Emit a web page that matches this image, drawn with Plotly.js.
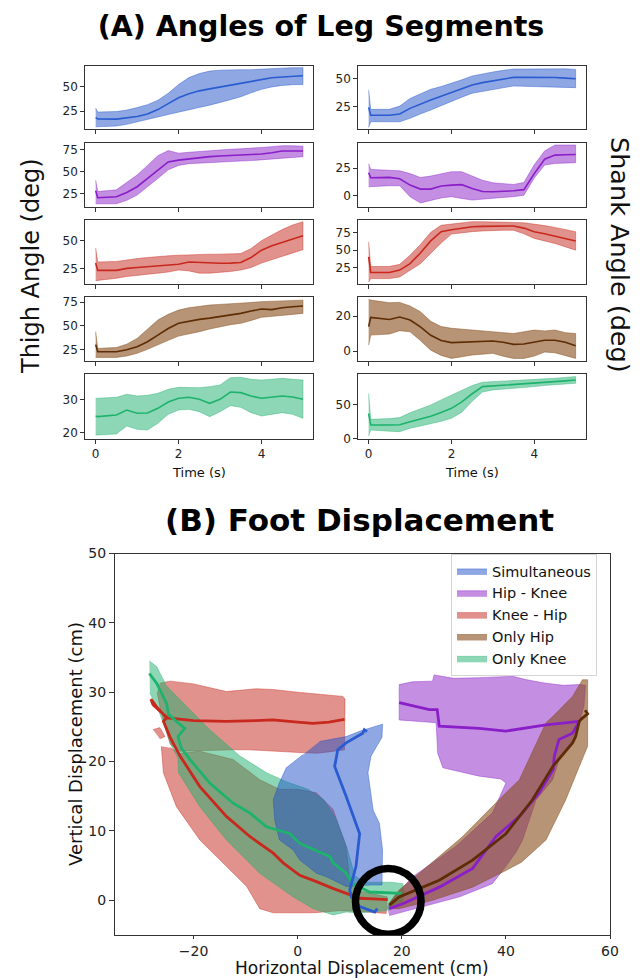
<!DOCTYPE html>
<html><head><meta charset="utf-8">
<script src="https://cdn.plot.ly/plotly-3.0.1.min.js"></script>
<style>html,body{margin:0;padding:0;background:#fff}#chart{width:640px;height:978px}</style>
</head><body><div id="chart"></div>
<script>
// ---------- Panel A data ----------
const timeS = [0, 0.05, 0.5, 0.75, 1, 1.25, 1.5, 1.75, 2, 2.25, 2.5, 2.75, 3, 3.25, 3.5, 3.75, 4, 4.25, 4.5, 4.75, 5];

const thighSimMean  = [18.3, 17, 16.8, 18, 19.5, 22, 26.5, 32.5, 38.5, 42.5, 45.5, 47.5, 49.5, 51.5, 53.5, 55.5, 57.3, 58.8, 59.6, 60.2, 60.8];
const thighSimUpper = [28, 24, 24.5, 26, 28.5, 31.5, 36, 43, 52, 59, 63, 65.5, 66.5, 67, 67, 67, 67.5, 68.5, 69, 69, 69];
const thighSimLower = [9, 9, 9.8, 11.5, 14, 16.5, 19, 21.5, 24, 26.5, 28.7, 31, 33.4, 36.5, 39.5, 43.5, 47, 49.5, 51, 51.7, 52];

const thighHKMean  = [28, 20, 21, 26, 32.6, 42, 52, 61, 63, 64.5, 66, 67, 67.7, 68.3, 69, 69.5, 70, 71.5, 73.5, 73.5, 73.5];
const thighHKUpper = [40, 27, 29, 37, 46, 57, 68, 74, 71, 72, 73, 74, 74.6, 75.5, 76, 76.5, 77.6, 78.5, 79.6, 79.5, 79];
const thighHKLower = [13, 13, 13, 17, 23, 32, 42, 52, 57, 59, 60, 60.5, 61, 61.5, 62, 62.5, 63, 64, 65, 66, 67];

const thighKHMean  = [30, 23.5, 23.5, 25.3, 26, 26.8, 27.5, 28, 29, 31, 30.5, 29.8, 29.8, 30, 30.5, 35, 41.5, 45.5, 48.5, 51.5, 54.5];
const thighKHUpper = [43.5, 31, 31.5, 33, 34, 35, 36, 36.5, 37, 37.5, 38, 38, 38, 38.3, 38.5, 43, 50, 55, 60, 64, 67];
const thighKHLower = [14.3, 14.3, 16.4, 18, 19.4, 20, 21, 22, 23.8, 23, 21, 21, 21.6, 22.5, 23.8, 26, 30, 33, 36, 39, 42];

const thighOHMean  = [30, 22.5, 22.5, 24.5, 27.8, 33, 40, 47, 52.5, 55, 56.7, 58, 59.5, 61, 63, 65.5, 67.6, 67, 69, 70, 70.8];
const thighOHUpper = [43.7, 26, 27, 30.5, 36.6, 46, 56, 62, 66.5, 69, 70.8, 71.8, 72.5, 73, 73.6, 74.5, 75.4, 76, 76.5, 77, 77];
const thighOHLower = [16.5, 16.5, 16.5, 18, 20.8, 25, 29.6, 34.5, 39, 41.5, 43.7, 46.5, 49, 51, 52.5, 55.5, 58.8, 60, 61, 62, 63];

const thighOKMean  = [25, 24.8, 25.3, 26.8, 25.8, 25.9, 27.3, 29.2, 30.3, 30.6, 30, 28.8, 30, 32.2, 32, 31, 30.3, 30.6, 31, 30.7, 30];
const thighOKUpper = [30.3, 30.3, 30.6, 31.5, 31, 31.2, 31.8, 33, 33.6, 33.6, 33.5, 33.8, 34.3, 36.5, 36.6, 36, 35.8, 36, 36.3, 36, 35.8];
const thighOKLower = [19.3, 19.3, 19.6, 22, 21, 20.8, 22.8, 25.5, 26.8, 27, 26.3, 24.8, 26.3, 28.1, 27.6, 26, 25, 25.5, 26, 25.5, 24.3];

const shankSimMean  = [24.4, 17.3, 17.3, 18.5, 23.5, 27.5, 31, 34.3, 37.5, 41, 44.3, 46.5, 48.2, 49.8, 51.2, 51.2, 51.2, 51, 51, 50.5, 50];
const shankSimUpper = [40, 22.6, 22.6, 25.5, 32.4, 36.5, 40.5, 43, 45.8, 49, 52.4, 54.5, 56, 57.5, 58.6, 58.6, 58.6, 59.2, 59.2, 58.8, 58.3];
const shankSimLower = [6.5, 11.6, 11.6, 11.5, 14.6, 18.5, 22, 25.8, 29.5, 33.5, 37, 39, 40.5, 42, 43.5, 43.2, 42.9, 42.6, 42.3, 42.2, 42];

const shankHKMean  = [20.8, 16.3, 16.6, 15.3, 9.6, 6, 6, 8.8, 9.6, 10, 6.6, 3.8, 3.6, 4, 4.5, 5.5, 20, 33, 36.7, 37, 37.3];
const shankHKUpper = [29, 23.8, 23, 22.5, 20, 16.5, 17.8, 20, 21.7, 21.7, 18, 14, 11.7, 10.8, 10.2, 12, 28, 40.5, 45.8, 45.8, 45.8];
const shankHKLower = [8.1, 8.1, 9, 9, -0.9, -6.5, -4, -2, -0.9, -2.5, -3.9, -3, -2.4, -1.5, -0.9, 0.5, 16, 27.7, 29.2, 29.5, 29.8];

const shankKHMean  = [40.5, 18.5, 18.5, 22, 31, 46, 63, 76, 78.7, 81, 83, 83.5, 83.8, 84, 84, 81, 76, 73, 69.8, 66.5, 63];
const shankKHUpper = [61.7, 27, 27, 30, 43, 58, 75, 85, 86.7, 88.5, 90, 90, 90, 89.5, 89, 88.5, 86.7, 84.5, 82, 79, 76];
const shankKHLower = [5, 10, 10, 12.3, 21.7, 31, 46, 60, 72.6, 74.5, 76, 77, 78, 78, 78, 73, 66.5, 63, 59.4, 55, 50];

const shankOHMean  = [13.9, 19.2, 18, 19.4, 17.7, 13.8, 9, 6, 4.8, 5, 5.3, 5.5, 5.7, 5, 3.8, 4, 5.3, 6.2, 6.2, 5, 3];
const shankOHUpper = [29.5, 29.1, 27.6, 27.8, 25.7, 22.5, 17, 14, 13, 12.5, 12, 11.7, 11.4, 10.5, 10, 11, 12, 11.5, 12, 10.5, 10];
const shankOHLower = [3.4, 9.1, 9.7, 11.6, 11, 6, 0.5, -2.5, -4.2, -3.3, -2.3, -1.8, -1.3, -3, -4.2, -4.2, -2.9, -0.6, -1, -2.5, -4.2];

const shankOKMean  = [37, 20, 20, 20.5, 25, 29, 33, 38.5, 44.6, 54, 66, 76.5, 77.5, 78.3, 79, 80.2, 81.4, 82.6, 83.8, 85, 86.3];
const shankOKUpper = [66.7, 28.4, 29.5, 31, 38, 44, 49.5, 57, 64, 70, 78, 83, 83.8, 84, 84.5, 85.5, 86.3, 87.5, 88.7, 90, 91.2];
const shankOKLower = [3.9, 12.7, 11, 10.3, 15.2, 18.5, 21.6, 25.5, 30, 39, 55, 68.5, 71.6, 72.8, 74, 75.2, 76.5, 78.2, 80, 80.7, 81.4];

const xTicksA = [0, 2, 4];
const yTicksThigh = [[25, 50], [25, 50, 75], [25, 50], [25, 50, 75], [20, 30]];
const yTicksShank = [[25, 50], [0, 25], [25, 50, 75], [0, 20], [0, 50]];

// ---------- Panel B data (cm) ----------
const conditions = ['Simultaneous', 'Hip - Knee', 'Knee - Hip', 'Only Hip', 'Only Knee'];

const simBandX = [4.2, 9.3, 12, 16.3, 16.2, 14.1, 13.5, 14.5, 15.7, 16.3, 16.2, 14, 10, 9.3, 5.5, 3.6, 0.4, -0.9, -3.5, -4.4, -4.7, -3.5, -2.2, 1];
const simBandY = [22.9, 23.6, 24.4, 25.4, 23.5, 20.8, 18.4, 13, 11.1, 7.3, 2.2, 2.2, 2, 2, 3.4, 3.9, 5.8, 7.3, 8.7, 11.5, 14.5, 17, 19.1, 21];
const simLineX = [13.3, 12.8, 12.5, 9.3, 7.7, 7.1, 9.3, 11.9, 11.2, 10, 10.3, 11.9, 14.8, 15.3];
const simLineY = [24.3, 24.6, 24.1, 22.7, 21.7, 19.3, 15, 9.6, 4.9, 1.5, 0.5, -0.9, -1.7, -1.2];

const hkBandX = [17.6, 23.9, 31.1, 37.4, 40, 42, 43.2, 45.8, 49, 50.2, 52.8, 54.1, 55, 55.3, 54.1, 51, 47.7, 44, 41.3, 34.9, 30, 26.2, 25.9, 22, 19.5, 19.5, 26.6, 26.9, 27.9, 34.9, 39, 40, 37.4, 30.4, 22.1, 18.5, 17.2];
const hkBandY = [-2.2, -0.9, 0.5, 2.4, 4.9, 7, 8.7, 14.5, 17.4, 20.3, 22.7, 25.6, 28, 31, 31.1, 31, 31.3, 31.8, 32.3, 32.1, 32, 32.5, 31.6, 31.5, 31.1, 26, 25.6, 21.2, 19.1, 17.9, 17.5, 16.9, 12.6, 7.8, 3.4, 0.5, -1];
const hkLineX = [17.6, 20.2, 27.2, 33.6, 38.1, 42.6, 46.4, 49.1, 49.3, 50.2, 52.8, 54.1, 47.7, 40, 34.9, 27.2, 26.8, 25.3, 19.5];
const hkLineY = [-1.2, -0.5, 1.9, 4.6, 9.2, 12.1, 15.5, 18.9, 20.8, 23.2, 24.1, 25.8, 25.3, 24.4, 24.8, 25.1, 27.5, 27.5, 28.5];

const khBandX = [-26.5, -24.5, -20, -13.7, -8, -4.8, 0, 2.9, 6, 8.7, 9.1, 9.1, 9, 6, 3.6, 0.4, -4, -9.2, -12.4, -18, -22.6, -24.5, -25.5, -26.5, -27, null,
                 -26.2, -25.8, -23.3, -18.8, -13.7, -9.8, -7.3, -4.7, 3, 8.1, 12, 17, 17.2, 11, 10, 9.3, 6.8, 3.6, 0, -3.5, -7.3, -12.4, -18.8, -22.6, -24.5, null,
                 -27.8, -26.5, -25.5, -26.5];
const khBandY = [31.3, 31.6, 31.2, 30.1, 30.5, 30.4, 30, 29.8, 29.5, 29.4, 29, 26.5, 21.7, 21.4, 21.2, 21.3, 21.5, 21.7, 21.7, 21.6, 21.5, 22.5, 25, 28, 30, null,
                 22.2, 18.4, 13.5, 8.7, 4.9, 2, -1.2, -1.8, -1.8, -1.5, -1.6, -1.9, 0.5, 1.5, 2.9, 7.8, 13.1, 15.5, 16, 16, 17.4, 20.3, 21.5, 21.2, 22, null,
                 24.6, 24.9, 23.6, 23.3];
const khLineX = [17.3, 17, 14.5, 11.9, 10, 6.5, 3.6, 0.4, -2.8, -4.7, -9.2, -13.7, -18.8, -22.6, -24.5, -25.8, -25.2, -27, -28.2, -27.8, -26.5, -25, -20, -13.7, -8, -4.8, 0, 2.9, 6, 9];
const khLineY = [0.1, 0.1, 0.2, 0.3, 0.8, 1.8, 2.7, 3.6, 5.4, 6.8, 9.2, 12.1, 16.4, 20.8, 23.5, 25.8, 26.3, 27.8, 29, 28.2, 27.3, 26.3, 25.9, 25.8, 25.9, 26, 25.7, 25.5, 25.7, 26.1];

const ohBandX = [17.5, 19.5, 24, 31.7, 40, 42.6, 47.7, 49, 52.8, 54.7, 55.7, 55.7, 54.1, 51.5, 47.7, 43, 40, 33.6, 25.9, 19.5, 17.5];
const ohBandY = [-0.5, 1.5, 4.3, 9.2, 15.5, 17.4, 25.6, 26.5, 29.4, 31.8, 31.8, 22.2, 19.3, 14.5, 8.7, 5.5, 4.3, 1.9, 0, -1.2, -1.2];
const ohLineX = [17.6, 19.5, 27.2, 33.6, 40, 45.1, 49, 52.8, 53.4, 54.1, 54.6, 55.7, 55.2];
const ohLineY = [-0.7, 0.5, 2.9, 5.8, 9.6, 14.5, 19.3, 22.7, 23.6, 25.8, 26.2, 26.9, 27.4];

const okBandX = [-28.5, -27.1, -25.2, -21.4, -16.9, -11.1, -6, -2.2, 2, 5, 7.5, 9.5, 11, 13, 18, 20.2, 20.5, 20, 17, 12, 9.3, 6.8, 3, -0.9, -7.3, -13.7, -18.8, -22.9, -23, -24.2, -26.8, -28.4];
const okBandY = [34.5, 33.7, 30.9, 28, 24.6, 20.8, 18.4, 17.1, 16, 14.5, 11.5, 7.5, 3.5, 2.6, 2.6, 2.4, 1, -0.5, -1.5, -1.8, -1.7, -2.1, -1.2, 0.5, 3.9, 8.7, 13.5, 18.4, 20.5, 22.2, 27.5, 29.9];
const okLineX = [-28.5, -27.1, -25.2, -24.8, -23, -21.7, -23, -22.4, -20.7, -16.9, -12.4, -9.2, -6, -1.5, 0.4, 6.2, 6.8, 9.3, 10.6, 13.8, 19.9];
const okLineY = [32.7, 31.3, 28.4, 26.8, 25.6, 24.8, 23.6, 22, 20.3, 16.9, 14, 12.6, 10.6, 9.6, 8.2, 6.3, 5.4, 3.9, 2.4, 1.2, 1.0];

const xTicksB = [-20, 0, 20, 40, 60];
const yTicksB = [0, 10, 20, 30, 40, 50];

// ---------- styling ----------
const F = 'DejaVu Sans, Verdana, sans-serif';
const W = 640, H = 978;
const palette = {
  sim: {line: '#2a5bd0', fill: 'rgba(31,81,201,0.5)'},
  hk:  {line: '#8a1ec8', fill: 'rgba(137,30,200,0.5)'},
  kh:  {line: '#c8281e', fill: 'rgba(197,37,25,0.5)'},
  oh:  {line: '#5e2c05', fill: 'rgba(135,77,27,0.6)'},
  ok:  {line: '#1db36d', fill: 'rgba(29,175,109,0.5)'}
};
const px = v => v / W;
const py = v => 1 - v / H;

const colX = [[85.3, 313.3], [358.3, 586]];
const rowY = [[65.7, 129.3], [142.7, 206.7], [220, 284], [297.3, 361], [374.3, 439]];
const rangesThigh = [[6.5, 71], [9.7, 83], [11.3, 68.5], [12.7, 80], [18.1, 37.5]];
const rangesShank = [[4.8, 61.6], [-9.9, 47.9], [2.4, 92.4], [-5.7, 30.7], [-0.5, 94.6]];

const panelsA = [
  {col: 0, row: 0, c: 'sim', m: thighSimMean, u: thighSimUpper, l: thighSimLower},
  {col: 0, row: 1, c: 'hk',  m: thighHKMean,  u: thighHKUpper,  l: thighHKLower},
  {col: 0, row: 2, c: 'kh',  m: thighKHMean,  u: thighKHUpper,  l: thighKHLower},
  {col: 0, row: 3, c: 'oh',  m: thighOHMean,  u: thighOHUpper,  l: thighOHLower},
  {col: 0, row: 4, c: 'ok',  m: thighOKMean,  u: thighOKUpper,  l: thighOKLower},
  {col: 1, row: 0, c: 'sim', m: shankSimMean, u: shankSimUpper, l: shankSimLower},
  {col: 1, row: 1, c: 'hk',  m: shankHKMean,  u: shankHKUpper,  l: shankHKLower},
  {col: 1, row: 2, c: 'kh',  m: shankKHMean,  u: shankKHUpper,  l: shankKHLower},
  {col: 1, row: 3, c: 'oh',  m: shankOHMean,  u: shankOHUpper,  l: shankOHLower},
  {col: 1, row: 4, c: 'ok',  m: shankOKMean,  u: shankOKUpper,  l: shankOKLower}
];

const axBase = {
  showline: true, mirror: true, linecolor: '#333', linewidth: 1,
  ticks: 'outside', ticklen: 4, tickwidth: 1, tickcolor: '#333',
  showgrid: false, zeroline: false, fixedrange: true,
  tickfont: {family: F, size: 12, color: '#222'}
};

const traces = [];
const layout = {
  width: W, height: H, margin: {l: 0, r: 0, t: 0, b: 0},
  paper_bgcolor: '#fff', plot_bgcolor: '#fff',
  font: {family: F, color: '#111'},
  showlegend: true,
  title: {text: '(A) Angles of Leg Segments', x: px(321), xanchor: 'center', y: py(26), yanchor: 'middle',
          font: {family: F, size: 28.5, weight: 700, color: '#000'}},
  annotations: [],
  shapes: []
};

const ann = (text, x, y, size, extra) => Object.assign({
  text: text, xref: 'paper', yref: 'paper', x: px(x), y: py(y),
  xanchor: 'center', yanchor: 'middle', showarrow: false,
  font: {family: F, size: size, color: '#111'}
}, extra || {});

panelsA.forEach((p, i) => {
  const n = i + 1;
  const xa = 'x' + n, ya = 'y' + n;
  const pal = palette[p.c];
  traces.push({
    type: 'scatter', mode: 'lines', xaxis: xa, yaxis: ya, showlegend: false, hoverinfo: 'skip',
    x: timeS.concat(timeS.slice().reverse()),
    y: p.u.concat(p.l.slice().reverse()),
    fill: 'toself', fillcolor: pal.fill, line: {color: pal.fill, width: 0.8}
  });
  traces.push({
    type: 'scatter', mode: 'lines', xaxis: xa, yaxis: ya, showlegend: false,
    x: timeS, y: p.m, line: {color: pal.line, width: 1.6}
  });
  const cx = colX[p.col], ry = rowY[p.row];
  const bottom = p.row === 4;
  layout['xaxis' + n] = Object.assign({}, axBase, {
    domain: [px(cx[0]), px(cx[1])], anchor: ya, range: [-0.25, 5.25],
    tickvals: xTicksA, showticklabels: bottom
  });
  layout['yaxis' + n] = Object.assign({}, axBase, {
    domain: [py(ry[1]), py(ry[0])], anchor: xa,
    range: p.col === 0 ? rangesThigh[p.row] : rangesShank[p.row],
    tickvals: p.col === 0 ? yTicksThigh[p.row] : yTicksShank[p.row]
  });
  if (bottom) {
    layout.annotations.push(ann('Time (s)', (cx[0] + cx[1]) / 2, 473, 13));
  }
});

// Panel B
const bandSpec = [
  {key: 'kh', name: conditions[2], x: khBandX, y: khBandY, rank: 3},
  {key: 'hk', name: conditions[1], x: hkBandX, y: hkBandY, rank: 2},
  {key: 'ok', name: conditions[4], x: okBandX, y: okBandY, rank: 5},
  {key: 'sim', name: conditions[0], x: simBandX, y: simBandY, rank: 1},
  {key: 'oh', name: conditions[3], x: ohBandX, y: ohBandY, rank: 4}
];
bandSpec.forEach(b => {
  traces.push({
    type: 'scatter', mode: 'lines', xaxis: 'x11', yaxis: 'y11', name: b.name, legendrank: b.rank,
    x: b.x, y: b.y, fill: 'toself', fillcolor: palette[b.key].fill,
    line: {color: palette[b.key].fill, width: 0.8}, hoverinfo: 'skip'
  });
});
const lineSpec = [
  {key: 'kh', x: khLineX, y: khLineY},
  {key: 'ok', x: okLineX, y: okLineY},
  {key: 'sim', x: simLineX, y: simLineY},
  {key: 'hk', x: hkLineX, y: hkLineY},
  {key: 'oh', x: ohLineX, y: ohLineY}
];
lineSpec.forEach(l => {
  traces.push({
    type: 'scatter', mode: 'lines', xaxis: 'x11', yaxis: 'y11', showlegend: false,
    x: l.x, y: l.y, line: {color: palette[l.key].line, width: 2.8}
  });
});

layout.xaxis11 = Object.assign({}, axBase, {
  domain: [px(115), px(610)], anchor: 'y11', range: [-35.1, 60], tickvals: xTicksB, ticklen: 3,
  tickfont: {family: F, size: 14, color: '#222'}
});
layout.yaxis11 = Object.assign({}, axBase, {
  domain: [py(935), py(553.5)], anchor: 'x11', range: [-5, 50], tickvals: yTicksB, ticklen: 5,
  tickfont: {family: F, size: 14, color: '#222'}
});

layout.legend = {
  x: px(451), y: py(554), xanchor: 'left', yanchor: 'top',
  bgcolor: 'rgba(255,255,255,0.85)', bordercolor: '#d5d5d5', borderwidth: 1,
  font: {family: F, size: 14.5, color: '#111'}, tracegroupgap: 0
};

// start-point marker circle
const startX = 17.4, startY = -0.15;
layout.shapes.push({
  type: 'circle', xref: 'x11', yref: 'y11', layer: 'above',
  x0: startX - 6.3, x1: startX + 6.3, y0: startY - 4.75, y1: startY + 4.75,
  line: {color: '#000', width: 7.5}
});

layout.annotations.push(
  ann('(B) Foot Displacement', 359, 520, 31, {font: {family: F, size: 31, weight: 700, color: '#000'}}),
  ann('Horizontal Displacement (cm)', 362, 967.5, 17),
  ann('Vertical Displacement (cm)', 75, 744, 18, {textangle: -90}),
  ann('Thigh Angle (deg)', 31, 266, 24, {textangle: -90}),
  ann('Shank Angle (deg)', 620, 255, 25.5, {textangle: 90})
);

Plotly.newPlot('chart', traces, layout, {staticPlot: true, displayModeBar: false});
</script>
</body></html>
